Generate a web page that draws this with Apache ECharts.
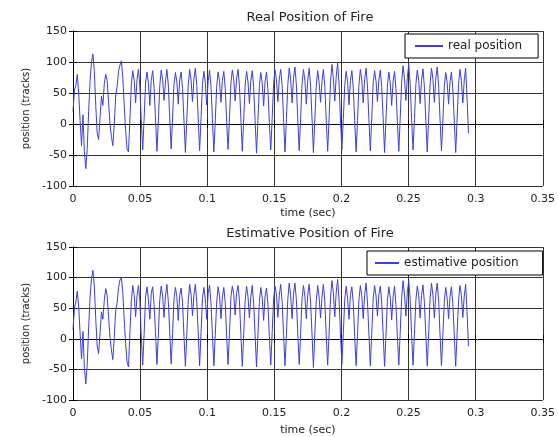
<!DOCTYPE html>
<html>
<head>
<meta charset="utf-8">
<script src="https://cdn.jsdelivr.net/npm/echarts@6/dist/echarts.min.js"></script>
<style>
  html, body { margin: 0; padding: 0; background: #fff; }
  #chart { width: 558px; height: 437px; }
</style>
</head>
<body>
<div id="chart"></div>
<script>
// Sampling step of the recorded signal (seconds)
const dt = 0.00106;

// Measured fire position (tracks), one sample every dt
const realPos = [
  20, 55, 62, 80, 50, 5, -35, 15, -45, -72,
  -40, 20, 70, 100, 113, 85, 30, -15, -25, 10,
  45, 30, 65, 80, 70, 35, 0, -20, -35, 0,
  45, 60, 85, 95, 102, 75, 30, -10, -40,
  -45, 8, 64, 86, 70, 34, 72, 88, 60, 6,
  -42, 10, 66, 84, 66, 30, 70, 86, 58, 8,
  -44, 6, 62, 87, 72, 38, 68, 88, 63, 10,
  -40, 11, 65, 83, 68, 32, 71, 84, 57, 5,
  -46, 7, 63, 88, 71, 36, 73, 90, 62, 9,
  -43, 9, 64, 85, 67, 31, 69, 87, 60, 7,
  -45, 5, 61, 84, 69, 35, 70, 85, 58, 4,
  -41, 10, 66, 87, 72, 37, 74, 88, 61, 8,
  -44, 8, 63, 85, 68, 33, 70, 86, 59, 6,
  -47, 6, 62, 83, 66, 29, 68, 84, 56, 3,
  -42, 9, 65, 87, 71, 36, 72, 88, 62, 8,
  -45, 7, 64, 90, 72, 34, 74, 92, 63, 7,
  -43, 10, 65, 88, 70, 32, 71, 90, 61, 9,
  -46, 8, 62, 86, 67, 35, 69, 88, 60, 6,
  -44, 9, 68, 96, 74, 37, 76, 98, 65, 8,
  -41, 7, 62, 85, 68, 31, 70, 86, 58, 5,
  -45, 6, 64, 88, 71, 34, 72, 90, 61, 7,
  -43, 10, 66, 86, 69, 36, 71, 87, 59, 9,
  -46, 8, 62, 84, 66, 30, 69, 85, 57, 4,
  -44, 9, 67, 94, 73, 38, 75, 96, 64, 8,
  -42, 7, 64, 87, 70, 33, 70, 89, 60, 6,
  -45, 9, 65, 90, 72, 35, 73, 92, 62, 7,
  -43, 6, 61, 83, 67, 32, 68, 84, 56, 5,
  -46, 8, 64, 88, 70, 34, 71, 90, 40, -15
];

// Estimated fire position (tracks), same sampling
const estPos = [
  15, 50, 60, 78, 52, 8, -33, 12, -48, -74,
  -42, 18, 68, 98, 112, 86, 32, -12, -24, 8,
  44, 32, 63, 82, 71, 36, 2, -18, -34, 2,
  46, 58, 84, 96, 100, 76, 32, -8, -38,
  -46, 10, 62, 87, 72, 36, 70, 87, 62, 4,
  -43, 8, 68, 85, 64, 32, 74, 85, 56, 10,
  -42, 7, 64, 86, 70, 35, 70, 89, 61, 11,
  -41, 9, 65, 84, 69, 30, 71, 83, 59, 4,
  -45, 8, 62, 89, 72, 38, 72, 89, 61, 10,
  -44, 10, 66, 84, 65, 32, 74, 88, 58, 6,
  -44, 6, 60, 85, 70, 33, 68, 84, 59, 5,
  -42, 9, 68, 86, 72, 39, 75, 87, 62, 7,
  -45, 7, 63, 86, 69, 34, 69, 87, 57, 7,
  -46, 7, 61, 84, 67, 30, 69, 83, 57, 4,
  -43, 10, 65, 86, 72, 35, 71, 89, 61, 7,
  -44, 6, 65, 91, 71, 33, 73, 91, 64, 8,
  -42, 9, 66, 87, 69, 33, 72, 89, 60, 8,
  -47, 9, 62, 87, 68, 34, 68, 89, 61, 5,
  -43, 8, 67, 95, 75, 36, 75, 97, 64, 9,
  -42, 8, 63, 86, 67, 32, 71, 85, 59, 4,
  -44, 7, 65, 87, 70, 33, 71, 91, 60, 8,
  -44, 9, 65, 87, 70, 37, 72, 86, 60, 8,
  -45, 7, 63, 85, 67, 31, 68, 86, 56, 5,
  -43, 10, 66, 95, 72, 37, 76, 95, 65, 7,
  -43, 8, 63, 86, 71, 34, 71, 88, 59, 7,
  -44, 8, 66, 91, 71, 34, 72, 91, 63, 6,
  -44, 7, 62, 84, 66, 33, 69, 85, 57, 6,
  -45, 9, 63, 87, 71, 35, 70, 89, 42, -12
];

const panelTitles = ['Real Position of Fire', 'Estimative Position of Fire'];
const seriesNames = ['real position', 'estimative position'];
const xAxisName = 'time (sec)';
const yAxisName = 'position (tracks)';

const FONT = 'DejaVu Sans';
const INK = '#222';
const LINE_BLUE = '#3d3de2';

function toPoints(values) {
  return values.map((v, i) => [+(i * dt).toFixed(6), v]);
}

const grids = [
  { left: 73, right: 11, top: 31, height: 155 },
  { left: 73, right: 11, top: 247, height: 154 }
];

const xAxes = [];
const yAxes = [];
grids.forEach((g, gi) => {
  // bottom axis with labels
  xAxes.push({
    type: 'value', gridIndex: gi, min: 0, max: 0.35, interval: 0.05,
    name: xAxisName, nameLocation: 'middle', nameGap: gi === 0 ? 22 : 25,
    nameTextStyle: { fontFamily: FONT, fontSize: 11, color: INK },
    axisLine: { lineStyle: { color: '#000', width: 1 } },
    axisTick: { inside: true, length: 4, lineStyle: { color: '#000' } },
    axisLabel: { fontFamily: FONT, fontSize: 11, color: INK, margin: 8 },
    splitLine: { show: true, lineStyle: { color: '#333', width: 1 } }
  });
  // top mirror axis, ticks only
  xAxes.push({
    type: 'value', gridIndex: gi, position: 'top', min: 0, max: 0.35, interval: 0.05,
    axisLine: { lineStyle: { color: '#000', width: 1 } },
    axisTick: { inside: true, length: 4, lineStyle: { color: '#000' } },
    axisLabel: { show: false }, splitLine: { show: false }
  });
  yAxes.push({
    type: 'value', gridIndex: gi, min: -100, max: 150, interval: 50,
    name: yAxisName, nameLocation: 'middle', nameGap: 41, nameRotate: 90,
    nameTextStyle: { fontFamily: FONT, fontSize: 10, color: INK },
    axisLine: { lineStyle: { color: '#000', width: 1 } },
    axisTick: { inside: true, length: 4, lineStyle: { color: '#000' } },
    axisLabel: { fontFamily: FONT, fontSize: 11, color: INK, margin: 6 },
    splitLine: { show: true, lineStyle: { color: '#333', width: 1 } }
  });
  yAxes.push({
    type: 'value', gridIndex: gi, position: 'right', min: -100, max: 150, interval: 50,
    axisLine: { lineStyle: { color: '#000', width: 1 } },
    axisTick: { inside: true, length: 4, lineStyle: { color: '#000' } },
    axisLabel: { show: false }, splitLine: { show: false }
  });
});

const legendBase = {
  orient: 'vertical', backgroundColor: '#fff', borderColor: '#000', borderWidth: 1,
  itemHeight: 2, icon: 'rect',
  textStyle: { fontFamily: FONT, fontSize: 12, color: INK }
};

const chart = echarts.init(document.getElementById('chart'), null, { renderer: 'canvas' });
chart.setOption({
  animation: false,
  backgroundColor: '#fff',
  title: [
    { text: panelTitles[0], left: 305, top: 6, textAlign: 'center',
      textStyle: { fontFamily: FONT, fontSize: 13, fontWeight: 'normal', color: INK } },
    { text: panelTitles[1], left: 305, top: 222, textAlign: 'center',
      textStyle: { fontFamily: FONT, fontSize: 13, fontWeight: 'normal', color: INK } }
  ],
  grid: grids,
  xAxis: xAxes,
  yAxis: yAxes,
  legend: [
    Object.assign({}, legendBase, { data: [seriesNames[0]], left: 405, top: 34,
      padding: [6, 16, 6, 10], itemWidth: 28 }),
    Object.assign({}, legendBase, { data: [seriesNames[1]], left: 367, top: 251,
      padding: [6, 24, 6, 8], itemWidth: 24 })
  ],
  series: [
    { name: seriesNames[0], type: 'line', xAxisIndex: 0, yAxisIndex: 0,
      data: toPoints(realPos), symbol: 'none', lineStyle: { color: LINE_BLUE, width: 1 },
      itemStyle: { color: LINE_BLUE } },
    { name: seriesNames[1], type: 'line', xAxisIndex: 2, yAxisIndex: 2,
      data: toPoints(estPos), symbol: 'none', lineStyle: { color: LINE_BLUE, width: 1 },
      itemStyle: { color: LINE_BLUE } }
  ]
});
</script>
</body>
</html>
